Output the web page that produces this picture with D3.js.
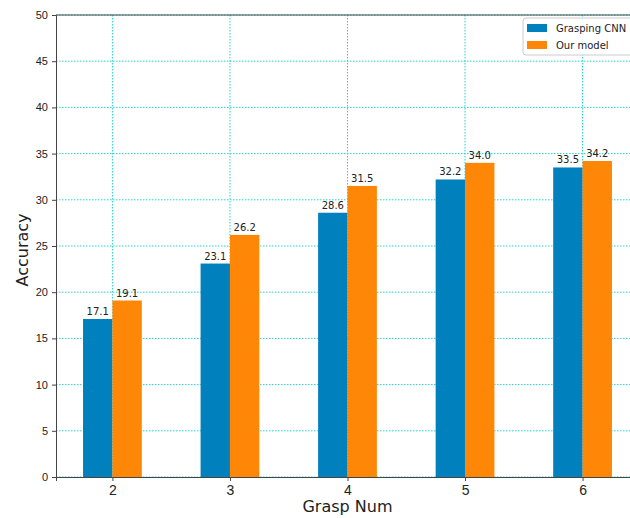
<!DOCTYPE html>
<meta charset="utf-8">
<style>
  body { margin: 0; background: #fff; }
  svg { font-family: "DejaVu Sans", sans-serif; }
  .grid line { stroke: #22d3d3; stroke-dasharray: 1.5 1.5; stroke-width: 1; }
  .axis text { fill: #222; font-size: 11px; }
  .axis path, .axis line { stroke: #444; }
</style>
<body>
<script src="https://d3js.org/d3.v7.min.js"></script>
<script>
  var categories = [2, 3, 4, 5, 6];
  var series = ["Grasping CNN", "Our model"];
  var cnnValues = [17.1, 23.1, 28.6, 32.2, 33.5];
  var ourValues = [19.1, 26.2, 31.5, 34.0, 34.2];
  var yTicks = [0, 5, 10, 15, 20, 25, 30, 35, 40, 45, 50];
  var colors = ["#0080bd", "#ff8707"];

  var margin = {top: 15, left: 56},
    plotW = 583, plotH = 462;

  var svg = d3.select("body").append("svg")
    .attr("width", 630)
    .attr("height", 518);

  var g = svg.append("g")
    .attr("transform", "translate(" + margin.left + "," + margin.top + ")");

  var x = d3.scaleLinear().domain([1.52, 6.48]).range([0, plotW]);
  var y = d3.scaleLinear().domain([0, 50]).range([plotH, 0]);
  var barW = x(2.25) - x(2);

  // grid
  var grid = g.append("g").attr("class", "grid");
  grid.selectAll(".gy").data(yTicks).enter().append("line")
    .attr("x1", 0).attr("x2", plotW)
    .attr("y1", function (d) { return y(d); })
    .attr("y2", function (d) { return y(d); });
  grid.selectAll(".gx").data(categories).enter().append("line")
    .attr("y1", 0).attr("y2", plotH)
    .attr("x1", function (d) { return x(d); })
    .attr("x2", function (d) { return x(d); });

  var data = [cnnValues, ourValues];

  data.forEach(function (vals, s) {
    var bg = g.append("g").attr("fill", colors[s]);
    bg.selectAll("rect").data(vals).enter().append("rect")
      .attr("x", function (d, i) { return x(categories[i]) - barW + s * barW; })
      .attr("width", barW)
      .attr("y", function (d) { return y(d); })
      .attr("height", function (d) { return plotH - y(d); });
    g.append("g").selectAll("text").data(vals).enter().append("text")
      .attr("x", function (d, i) { return x(categories[i]) - barW / 2 + s * barW; })
      .attr("y", function (d) { return y(d) - 4; })
      .attr("text-anchor", "middle")
      .attr("font-size", "10px")
      .attr("fill", "#222")
      .text(function (d) { return d.toFixed(1); });
  });

  // axes
  g.append("g").attr("class", "axis")
    .attr("transform", "translate(0," + plotH + ")")
    .call(d3.axisBottom(x).tickValues(categories).tickSize(4).tickPadding(4).tickFormat(d3.format("d")))
    .selectAll("text").style("font-size", "14px");
  g.append("g").attr("class", "axis")
    .call(d3.axisLeft(y).tickValues(yTicks).tickSize(4).tickPadding(4));
  g.append("line")
    .attr("x1", 0).attr("x2", plotW).attr("y1", 0).attr("y2", 0)
    .attr("stroke", "#444");
  g.append("line")
    .attr("x1", plotW).attr("x2", plotW).attr("y1", 0).attr("y2", plotH)
    .attr("stroke", "#444");
  g.selectAll(".axis .domain").attr("stroke", "#444");

  // labels
  svg.append("text")
    .attr("transform", "translate(28," + (margin.top + plotH / 2 + 4) + ") rotate(-90)")
    .attr("text-anchor", "middle")
    .attr("font-size", "16px")
    .attr("fill", "#222")
    .text("Accuracy");
  svg.append("text")
    .attr("x", margin.left + plotW / 2)
    .attr("y", 512)
    .attr("text-anchor", "middle")
    .attr("font-size", "16px")
    .attr("fill", "#222")
    .text("Grasp Num");

  // legend
  var lg = svg.append("g").attr("transform", "translate(523,18)");
  lg.append("rect")
    .attr("width", 115).attr("height", 37).attr("rx", 3)
    .attr("fill", "#fff").attr("fill-opacity", 0.85)
    .attr("stroke", "#ccc");
  series.forEach(function (name, i) {
    lg.append("rect")
      .attr("x", 4).attr("y", 6 + i * 17)
      .attr("width", 20).attr("height", 8)
      .attr("fill", colors[i]);
    lg.append("text")
      .attr("x", 33).attr("y", 14 + i * 17)
      .attr("font-size", "10px")
      .attr("fill", "#222")
      .text(name);
  });
</script>
</body>
